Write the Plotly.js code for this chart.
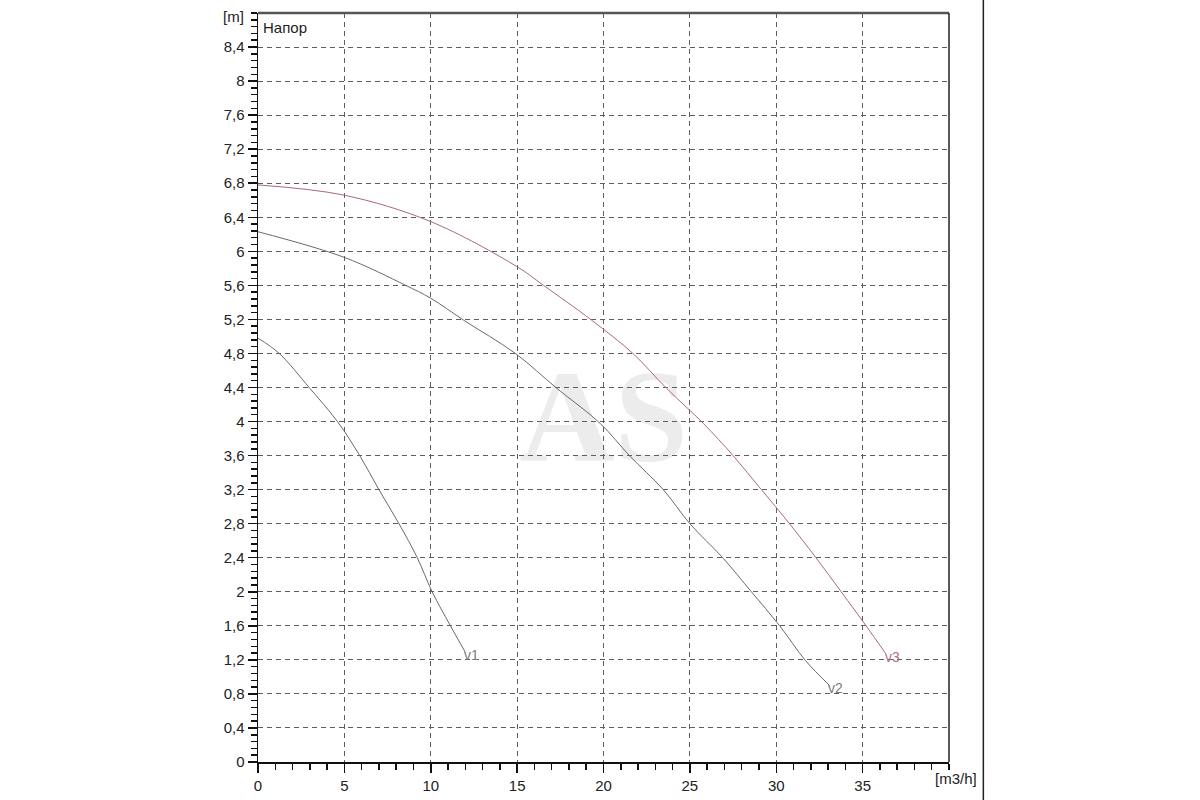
<!DOCTYPE html>
<html>
<head>
<meta charset="utf-8">
<script src="https://cdn.plot.ly/plotly-3.0.1.min.js"></script>
<style>html,body{margin:0;padding:0;background:#fff;}#chart{width:1200px;height:800px;}</style>
</head>
<body>
<div id="chart"></div>
<script>
// Flow [m3/h] and head [m] for each pump speed curve
const v1Flow = [0, 1.23, 2.96, 4.6, 5.89, 7.0, 8.16, 9.22, 10.08, 11.14, 12.0];
const v1Head = [4.98, 4.8, 4.4, 4.0, 3.6, 3.2, 2.8, 2.4, 2.0, 1.6, 1.29];

const v2Flow = [0, 4.98, 8.55, 9.99, 11.91, 14.9, 17.3, 19.8, 21.5, 23.46, 25.0, 26.9, 28.56, 30.2, 31.7, 33.08];
const v2Head = [6.23, 5.93, 5.60, 5.45, 5.19, 4.80, 4.39, 3.98, 3.60, 3.20, 2.80, 2.40, 2.00, 1.60, 1.19, 0.90];

const v3Flow = [0, 4.98, 9.99, 14.99, 16.53, 19.32, 21.7, 23.65, 25.77, 27.5, 29.14, 30.77, 32.3, 33.76, 35.2, 36.35];
const v3Head = [6.78, 6.66, 6.35, 5.82, 5.60, 5.19, 4.80, 4.39, 3.98, 3.60, 3.20, 2.80, 2.40, 2.00, 1.60, 1.27];

const curveNames = ['v1', 'v2', 'v3'];

const xTickVals = [0, 5, 10, 15, 20, 25, 30, 35];
const xTickText = ['0', '5', '10', '15', '20', '25', '30', '35'];
const yTickVals = [0, 0.4, 0.8, 1.2, 1.6, 2, 2.4, 2.8, 3.2, 3.6, 4, 4.4, 4.8, 5.2, 5.6, 6, 6.4, 6.8, 7.2, 7.6, 8, 8.4];
const yTickText = ['0', '0,4', '0,8', '1,2', '1,6', '2', '2,4', '2,8', '3,2', '3,6', '4', '4,4', '4,8', '5,2', '5,6', '6', '6,4', '6,8', '7,2', '7,6', '8', '8,4'];

const yAxisUnit = '[m]';
const xAxisUnit = '[m3/h]';
const headLabel = 'Напор';
const watermark = 'AS';

const FONT = 'Liberation Sans, Arial, sans-serif';
const greyLine = '#6a6a6a';
const v3Color = '#a86a78';

const series = [
  {x: v1Flow, y: v1Head, color: greyLine, labelColor: '#7a7a7a'},
  {x: v2Flow, y: v2Head, color: greyLine, labelColor: '#7a7a7a'},
  {x: v3Flow, y: v3Head, color: v3Color, labelColor: '#b07080'}
];

const traces = series.map((s, i) => ({
  type: 'scatter', mode: 'lines', x: s.x, y: s.y, name: curveNames[i],
  line: {color: s.color, width: 1, shape: 'spline', smoothing: 1.0},
  hoverinfo: 'skip', showlegend: false
}));

const annotations = series.map((s, i) => ({
  x: s.x[s.x.length - 1], y: s.y[s.y.length - 1], xref: 'x', yref: 'y',
  text: curveNames[i], showarrow: false, xanchor: 'left', yanchor: 'middle',
  xshift: -3, yshift: -3,
  font: {family: FONT, size: 14, color: s.labelColor}
}));

annotations.push(
  {xref: 'paper', yref: 'paper', x: 0, y: 1, text: yAxisUnit, showarrow: false,
   xanchor: 'right', yanchor: 'middle', xshift: -12, yshift: -3,
   font: {family: FONT, size: 15, color: '#222'}},
  {xref: 'paper', yref: 'paper', x: 0, y: 1, text: headLabel, showarrow: false,
   xanchor: 'left', yanchor: 'top', xshift: 3, yshift: -4,
   font: {family: FONT, size: 15, color: '#222'}},
  {xref: 'paper', yref: 'paper', x: 1, y: 0, text: xAxisUnit, showarrow: false,
   xanchor: 'left', yanchor: 'top', xshift: -16, yshift: -6,
   font: {family: FONT, size: 15, color: '#222'}}
);

const layout = {
  width: 1200, height: 800,
  margin: {l: 258, r: 251, t: 13, b: 38, pad: 0},
  paper_bgcolor: '#ffffff', plot_bgcolor: '#ffffff',
  showlegend: false,
  font: {family: FONT, size: 15, color: '#222'},
  xaxis: {
    range: [0, 40], tickvals: xTickVals, ticktext: xTickText,
    showline: true, linecolor: '#111', linewidth: 1.5,
    ticks: 'outside', ticklen: 9, tickwidth: 1.5, tickcolor: '#111',
    minor: {dtick: 1, ticks: 'outside', ticklen: 6, tickwidth: 1.5, tickcolor: '#111', showgrid: false},
    showgrid: true, gridcolor: '#5e5e5e', gridwidth: 1, griddash: '5px,4px',
    zeroline: false, tickfont: {family: FONT, size: 15, color: '#222'}, fixedrange: true
  },
  yaxis: {
    range: [0, 8.8], tickvals: yTickVals, ticktext: yTickText,
    showline: true, linecolor: '#111', linewidth: 1.5,
    ticks: 'outside', ticklen: 9, tickwidth: 1.5, tickcolor: '#111',
    minor: {dtick: 0.08, ticks: 'outside', ticklen: 6, tickwidth: 1.5, tickcolor: '#111', showgrid: false},
    showgrid: true, gridcolor: '#5e5e5e', gridwidth: 1, griddash: '5px,4px',
    zeroline: false, tickfont: {family: FONT, size: 15, color: '#222'}, fixedrange: true
  },
  shapes: [
    {type: 'rect', xref: 'paper', yref: 'paper', x0: 0.38, x1: 0.62, y0: 0.4, y1: 0.56,
     line: {width: 0}, fillcolor: 'rgba(0,0,0,0)', layer: 'below',
     label: {text: '<b>' + watermark + '</b>', textposition: 'middle center',
             font: {family: 'Liberation Serif, Times New Roman, serif', size: 132, color: '#ececec'}}},
    {type: 'line', xref: 'paper', yref: 'paper', x0: 0, x1: 1, y0: 1, y1: 1,
     line: {color: '#555', width: 2.5}},
    {type: 'line', xref: 'paper', yref: 'paper', x0: 1, x1: 1, y0: 0, y1: 1,
     line: {color: '#222', width: 1.5}},
    {type: 'line', xref: 'paper', yref: 'paper', x0: 1.0497, x1: 1.0497, y0: -0.06, y1: 1.02,
     line: {color: '#222', width: 1.5}}
  ],
  annotations: annotations
};

Plotly.newPlot('chart', traces, layout, {staticPlot: true, displayModeBar: false});
</script>
</body>
</html>
